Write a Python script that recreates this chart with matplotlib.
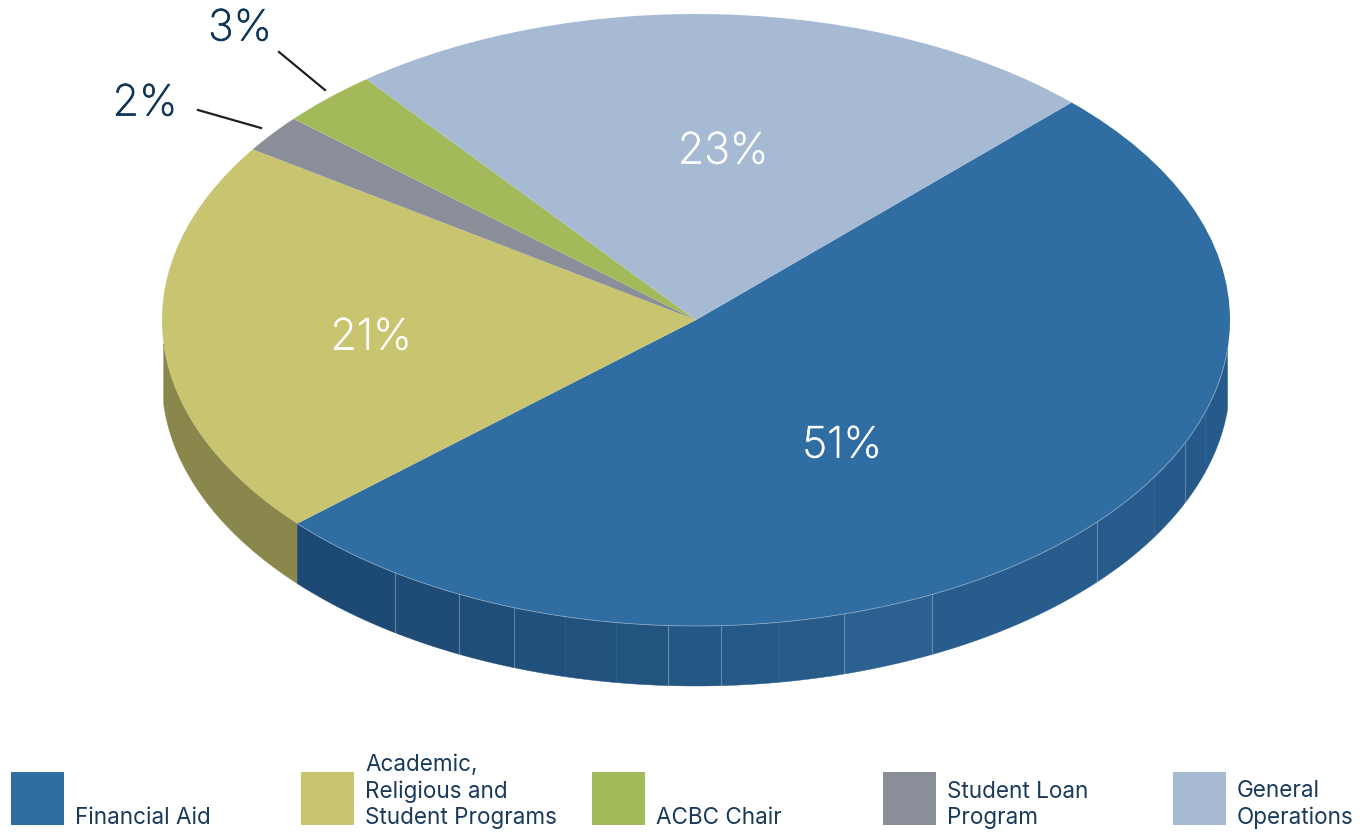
import numpy as np
import matplotlib
matplotlib.use("Agg")
import matplotlib.pyplot as plt
import matplotlib.patheffects as pe
from matplotlib.patches import Rectangle

# slices, clockwise from the upper right
slices = ["Financial Aid", "Academic, Religious and Student Programs", "Student Loan Program",
          "ACBC Chair", "General Operations"]
shares = [51, 21, 2, 3, 23]
colors = ["#2f6da3", "#c8c46f", "#8a8e98", "#a3ba5a", "#a6bbd3"]

# legend runs in a different order from the slices
legend_rows = [("Financial Aid", "#2f6da3"),
               ("Academic,\nReligious and\nStudent Programs", "#c8c46f"),
               ("ACBC Chair", "#a3ba5a"),
               ("Student Loan\nProgram", "#8a8e98"),
               ("General\nOperations", "#a6bbd3")]
legend_x = [11, 301, 592, 883, 1173]

# pie geometry in pixels, top-left origin
CX, CY, RX, RY, DEPTH = 696, 320, 534, 306, 60
W, H = 1360, 832
START = 45.3
RIM_FROM, RIM_TO = 184.5, 354.5   # the side wall stops just short of the widest point

# panels of the blue rim (pixel x of each seam) and their shades
seam_x = [395, 459, 514, 565, 616, 668, 721, 778, 844, 932, 1097, 1154, 1185, 1205]
seam_alpha = [.3, .3, .3, .06, .06, .3, .3, .05, .3, .3, .3, .06, .25, .06]
panel_shades = ["#1d4a74", "#1e4c77", "#1f4e79", "#20507c", "#21527e", "#225480", "#245784",
                "#255987", "#275c8a", "#2b6090", "#285c8c", "#275b8b", "#265a8a", "#265a8a", "#265a8a"]
YELLOW_RIM = "#8a874c"

plt.rcParams["font.family"] = ["Inter", "Lato", "DejaVu Sans"]
DARK = "#1a3a5c"
NAVY = "#0f3557"

fig = plt.figure(figsize=(W / 100, H / 100), dpi=100)

# pie axes: unit radius, stretching the axes turns the circle into the tilted ellipse
ax = fig.add_axes([0, 0, 1, 1])
ax.pie(shares, colors=colors, startangle=START, counterclock=False, radius=1,
       wedgeprops={"linewidth": 0})
ax.set_aspect("auto")
ax.set_xlim(-CX / RX, (W - CX) / RX)
ax.set_ylim((CY - H) / RY, CY / RY)
ax.axis("off")


def rim(theta0, theta1, color):
    # side wall between two angles (degrees), hanging below the ellipse
    t = np.radians(np.linspace(theta0, theta1, 80))
    x, y = np.cos(t), np.sin(t)
    d = DEPTH / RY
    ax.fill(np.r_[x, x[::-1]], np.r_[y, y[::-1] - d], color=color, lw=0.3, zorder=0)


# yellow slice rim ends where the blue slice starts
blue_end = START - shares[0] * 3.6
rim(RIM_FROM, 360 + blue_end, YELLOW_RIM)

seam_t = [np.degrees(-np.arccos((s - CX) / RX)) % 360 for s in seam_x]
edges = [360 + blue_end] + seam_t + [RIM_TO]
for a, b, c in zip(edges[:-1], edges[1:], panel_shades):
    rim(a, b, c)

# thin seams and the light hairline along the front edge of the blue slice
d = DEPTH / RY
for t, al in zip(seam_t, seam_alpha):
    x, y = np.cos(np.radians(t)), np.sin(np.radians(t))
    ax.plot([x, x], [y, y - d], color="white", lw=0.8, alpha=al, zorder=1)
t = np.radians(np.linspace(360 + blue_end, RIM_TO, 200))
ax.plot(np.cos(t), np.sin(t), color="#b5c6d8", lw=0.6, alpha=0.6, zorder=3)

# overlay in pixel coordinates for labels, leaders and legend
ov = fig.add_axes([0, 0, 1, 1])
ov.set_xlim(0, W)
ov.set_ylim(H, 0)
ov.axis("off")
ov.patch.set_alpha(0)


def pct(x, y, value, color):
    # light face thickened a touch
    ov.text(x, y, f"{value}%", color=color, fontsize=31, fontweight="light", ha="center", va="center",
            path_effects=[pe.withStroke(linewidth=0.5, foreground=color)])


pct(842, 446, shares[0], "white")
pct(371, 338, shares[1], "white")
pct(723, 152, shares[4], "white")
pct(145, 104, shares[2], NAVY)
pct(240, 29, shares[3], NAVY)
ov.plot([198, 261], [110, 128], color="#231f20", lw=1.6)
ov.plot([279, 325], [52, 90], color="#231f20", lw=1.6)

for x, (label, c) in zip(legend_x, legend_rows):
    ov.add_patch(Rectangle((x, 772), 53, 53, color=c, lw=0))
    ov.text(x + 64, 824, label, color=DARK, fontsize=16.2, fontweight="normal", ha="left", va="baseline",
            linespacing=1.24)

fig.savefig("out.png", dpi=100)
